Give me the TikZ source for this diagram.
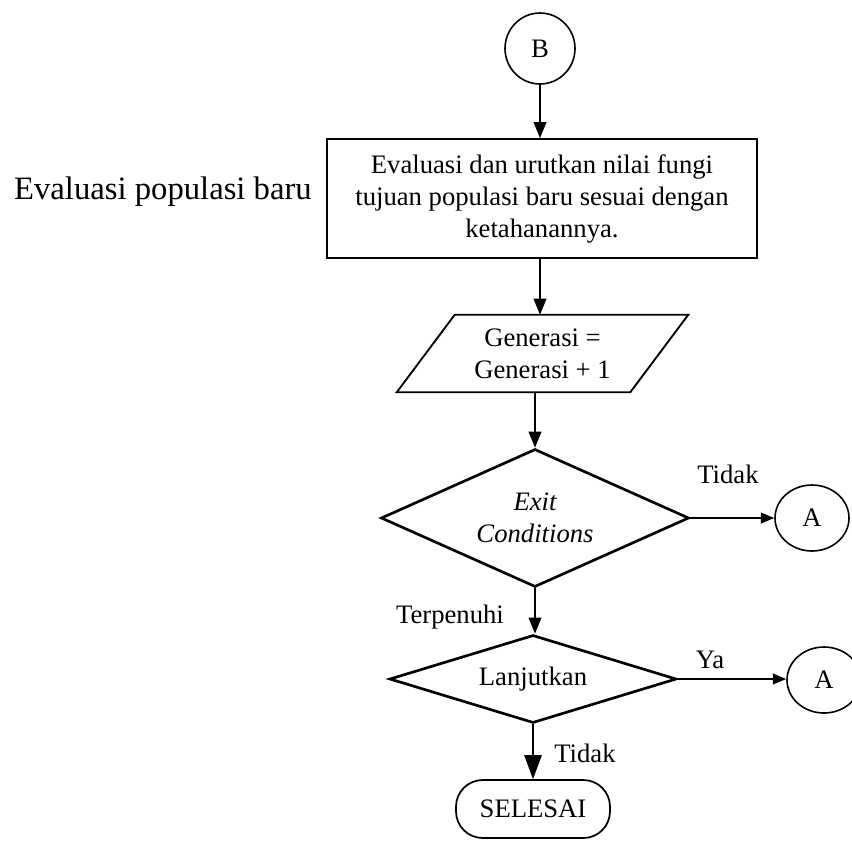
\documentclass[tikz,border=0pt]{standalone}
\usepackage{fontspec}
\setmainfont{Liberation Serif}
\usetikzlibrary{shapes.geometric,arrows.meta,calc}

% one drawing unit is 0.75pt; node sizes are given in pt below
\tikzset{
  base/.style={font=\fontsize{20}{24}\selectfont, inner sep=0pt},
  flowline/.style={line width=1.25pt},
  arrowv/.style={flowline, -{Triangle[length=12pt,width=9.5pt]}},
  arrowbig/.style={flowline, -{Triangle[length=18pt,width=13pt]}},
  arrowh/.style={flowline, -{Triangle[length=10pt,width=8pt]}},
  connector/.style={base, draw, line width=1.2pt, ellipse,
    minimum width=55.5pt, minimum height=49.5pt},
  procbox/.style={base, draw, line width=1.3pt, rectangle, align=center,
    minimum width=322.5pt, minimum height=89.25pt},
  decision/.style={base, draw, line width=2pt, diamond, align=center},
  terminal/.style={base, draw, line width=1.3pt, rounded corners=20pt,
    minimum width=115.5pt, minimum height=43.5pt},
  lbl/.style={base}
}

\begin{document}
\begin{tikzpicture}[x=0.75pt,y=-0.75pt]
\useasboundingbox (0,0) rectangle (852,840);

% off-page connector at the top
\node[connector, minimum width=52.5pt, minimum height=53.25pt] (B) at (540,48.5) {B};

% evaluation step
\node[procbox] (eval) at (542,198.5)
  {Evaluasi dan urutkan nilai fungi\\tujuan populasi baru sesuai dengan\\ketahanannya.};
\node[lbl, anchor=east, font=\fontsize{24.5}{28}\selectfont] (side) at (312,192)
  {Evaluasi populasi baru};

% generation counter (parallelogram drawn from the node's corners)
\node[base, align=center, minimum width=218.25pt, minimum height=57.75pt] (gen) at (542.5,353.5)
  {Generasi =\\Generasi + 1};
\draw[line width=1.4pt]
  ($(gen.north west)+(58,0)$) -- (gen.north east)
  -- ($(gen.south east)+(-58,0)$) -- (gen.south west) -- cycle;

% decisions
\node[decision, aspect=2.23, minimum width=231pt, minimum height=103.5pt] (exitc) at (535,518)
  {\itshape Exit\\\itshape Conditions};
\node[decision, aspect=3.26, minimum width=215.25pt, minimum height=66pt] (lanjut) at (533,679)
  {Lanjutkan};

% return connectors
\node[connector] (A1) at (812,518) {A};
\node[connector] (A2) at (824,680) {A};

% end
\node[terminal] (end) at (533,809) {SELESAI};

% connectors
\draw[arrowv] (B.south) -- (B.south |- eval.north);
\draw[arrowv] (eval.south -| B.south) -- (gen.north -| B.south);
\draw[arrowv] (exitc.north |- gen.south) -- (exitc.north);
\draw[arrowv] (exitc.south) -- (exitc.south |- lanjut.north);
\draw[arrowh] (exitc.east) -- (A1.west);
\draw[arrowh] (lanjut.east) -- (A2.west |- lanjut.east);
\draw[arrowbig] (lanjut.south) -- (end.north);

% branch labels
\node[lbl] (tidak1) at (728,474) {Tidak};
\node[lbl] (terp) at (450,617) {Terpenuhi};
\node[lbl] (ya) at (710,660) {Ya};
\node[lbl] (tidak2) at (585,753) {Tidak};
\end{tikzpicture}
\end{document}
